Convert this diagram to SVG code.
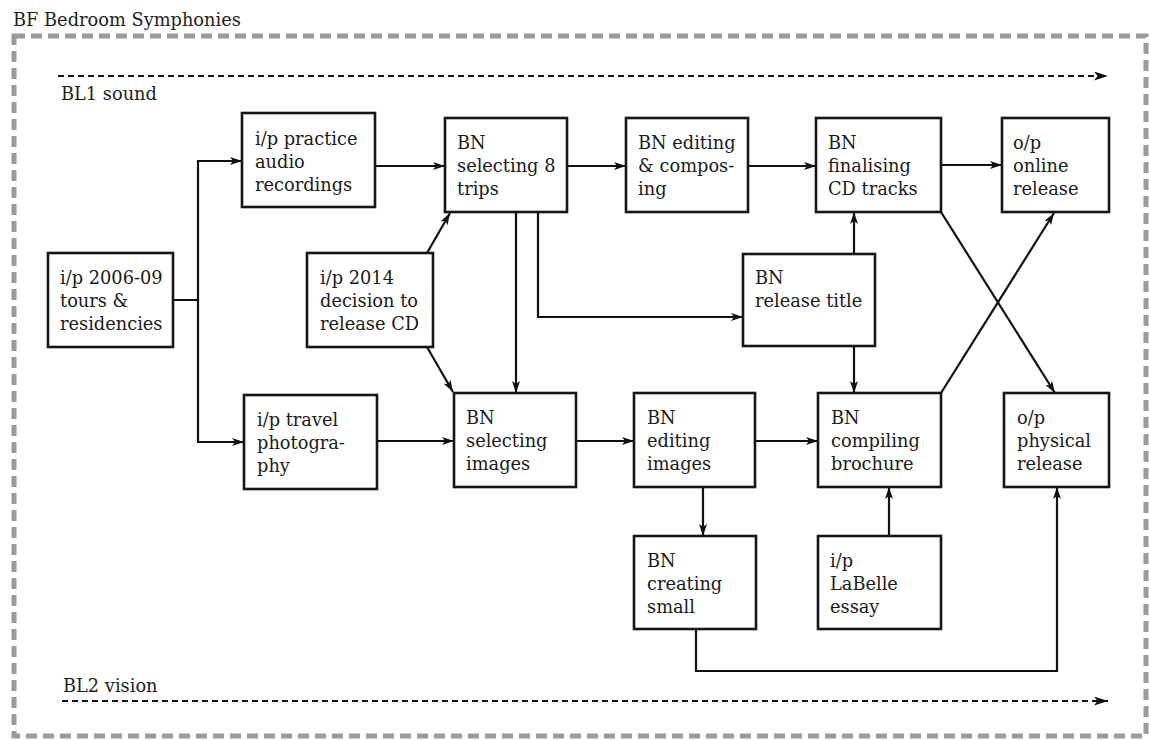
<svg xmlns="http://www.w3.org/2000/svg" width="1149" height="740" viewBox="0 0 1149 740">
  <defs>
    <marker id="arr" viewBox="0 0 12 8" refX="12" refY="4" markerWidth="12" markerHeight="8" markerUnits="userSpaceOnUse" orient="auto">
      <path d="M0,0 L12,4 L0,8 L3,4 z" fill="#111"/>
    </marker>
    <marker id="arrBig" viewBox="0 0 14 9" refX="14" refY="4.5" markerWidth="14" markerHeight="9" markerUnits="userSpaceOnUse" orient="auto">
      <path d="M0,0 L14,4.5 L0,9 L3.5,4.5 z" fill="#111"/>
    </marker>
    <style>
      .frame { fill: none; stroke: #9a9a9a; stroke-width: 5; stroke-dasharray: 11 6; }
      .lane { fill: none; stroke: #111; stroke-width: 2; stroke-dasharray: 6 4; marker-end: url(#arrBig); }
      .title { font-family: "DejaVu Serif", "Liberation Serif", serif; font-size: 17.8px; fill: #1e1e1e; }
      .node rect { fill: #fff; stroke: #151515; stroke-width: 2.6; }
      .node text { font-family: "DejaVu Serif", "Liberation Serif", serif; font-size: 17.8px; fill: #1a1a1a; }
      .edge { fill: none; stroke: #111; stroke-width: 2.2; }
      .arrow { marker-end: url(#arr); }
    </style>
  </defs>

  <!-- outer boundary and heading -->
  <text class="title" x="13" y="26">BF Bedroom Symphonies</text>
  <rect class="frame" x="14" y="36" width="1132" height="700"/>

  <!-- lanes -->
  <g id="lanes">
    <line class="lane" x1="58" y1="76" x2="1108" y2="76"/>
    <text class="title" x="61" y="100">BL1 sound</text>
    <line class="lane" x1="62" y1="701" x2="1108" y2="701"/>
    <text class="title" x="63" y="692">BL2 vision</text>
  </g>

  <!-- connectors -->
  <g id="connectors">
    <path class="edge arrow" d="M173,300 H198 V161 H242"/>
    <path class="edge arrow" d="M198,300 V442 H244"/>
    <path class="edge arrow" d="M375,166 H445"/>
    <path class="edge arrow" d="M427,253 L450,213"/>
    <path class="edge arrow" d="M427,347 L453,392"/>
    <path class="edge arrow" d="M516,212 V393"/>
    <path class="edge arrow" d="M538,212 V317 H743"/>
    <path class="edge arrow" d="M567,166 H626"/>
    <path class="edge arrow" d="M748,166 H816"/>
    <path class="edge arrow" d="M941,165 H1002"/>
    <path class="edge arrow" d="M854,254 V212"/>
    <path class="edge arrow" d="M854,346 V393"/>
    <path class="edge arrow" d="M941,212 L1055,393"/>
    <path class="edge arrow" d="M941,393 L1054,213"/>
    <path class="edge arrow" d="M377,441 H454"/>
    <path class="edge arrow" d="M576,441 H634"/>
    <path class="edge arrow" d="M755,441 H818"/>
    <path class="edge arrow" d="M703,487 V536"/>
    <path class="edge arrow" d="M889,536 V487"/>
    <path class="edge arrow" d="M696,629 V671 H1057 V487"/>
  </g>

  <!-- nodes -->
  <g id="n-tours" class="node">
    <rect x="48" y="253" width="125" height="94"/>
    <text x="60" y="284">i/p 2006-09</text>
    <text x="60" y="307">tours &amp;</text>
    <text x="60" y="330">residencies</text>
  </g>
  <g id="n-practice" class="node">
    <rect x="242" y="113" width="133" height="94"/>
    <text x="255" y="145">i/p practice</text>
    <text x="255" y="168">audio</text>
    <text x="255" y="191">recordings</text>
  </g>
  <g id="n-decision" class="node">
    <rect x="307" y="253" width="126" height="94"/>
    <text x="320" y="284">i/p 2014</text>
    <text x="320" y="307">decision to</text>
    <text x="320" y="330">release CD</text>
  </g>
  <g id="n-travel" class="node">
    <rect x="244" y="395" width="133" height="94"/>
    <text x="257" y="426">i/p travel</text>
    <text x="257" y="449">photogra-</text>
    <text x="257" y="472">phy</text>
  </g>
  <g id="n-trips" class="node">
    <rect x="445" y="118" width="122" height="94"/>
    <text x="457" y="149">BN</text>
    <text x="457" y="172">selecting 8</text>
    <text x="457" y="195">trips</text>
  </g>
  <g id="n-editcomp" class="node">
    <rect x="626" y="118" width="122" height="94"/>
    <text x="638" y="149">BN editing</text>
    <text x="638" y="172">&amp; compos-</text>
    <text x="638" y="195">ing</text>
  </g>
  <g id="n-final" class="node">
    <rect x="816" y="118" width="125" height="94"/>
    <text x="828" y="149">BN</text>
    <text x="828" y="172">finalising</text>
    <text x="828" y="195">CD tracks</text>
  </g>
  <g id="n-online" class="node">
    <rect x="1002" y="118" width="107" height="94"/>
    <text x="1013" y="149">o/p</text>
    <text x="1013" y="172">online</text>
    <text x="1013" y="195">release</text>
  </g>
  <g id="n-title" class="node">
    <rect x="743" y="254" width="132" height="92"/>
    <text x="755" y="284">BN</text>
    <text x="755" y="307">release title</text>
  </g>
  <g id="n-selimg" class="node">
    <rect x="454" y="393" width="122" height="94"/>
    <text x="466" y="424">BN</text>
    <text x="466" y="447">selecting</text>
    <text x="466" y="470">images</text>
  </g>
  <g id="n-editimg" class="node">
    <rect x="634" y="393" width="121" height="94"/>
    <text x="647" y="424">BN</text>
    <text x="647" y="447">editing</text>
    <text x="647" y="470">images</text>
  </g>
  <g id="n-brochure" class="node">
    <rect x="818" y="393" width="123" height="94"/>
    <text x="831" y="424">BN</text>
    <text x="831" y="447">compiling</text>
    <text x="831" y="470">brochure</text>
  </g>
  <g id="n-physical" class="node">
    <rect x="1004" y="393" width="105" height="94"/>
    <text x="1017" y="424">o/p</text>
    <text x="1017" y="447">physical</text>
    <text x="1017" y="470">release</text>
  </g>
  <g id="n-small" class="node">
    <rect x="634" y="536" width="122" height="93"/>
    <text x="647" y="567">BN</text>
    <text x="647" y="590">creating</text>
    <text x="647" y="613">small</text>
  </g>
  <g id="n-labelle" class="node">
    <rect x="818" y="536" width="123" height="93"/>
    <text x="830" y="567">i/p</text>
    <text x="830" y="590">LaBelle</text>
    <text x="830" y="613">essay</text>
  </g>
</svg>
